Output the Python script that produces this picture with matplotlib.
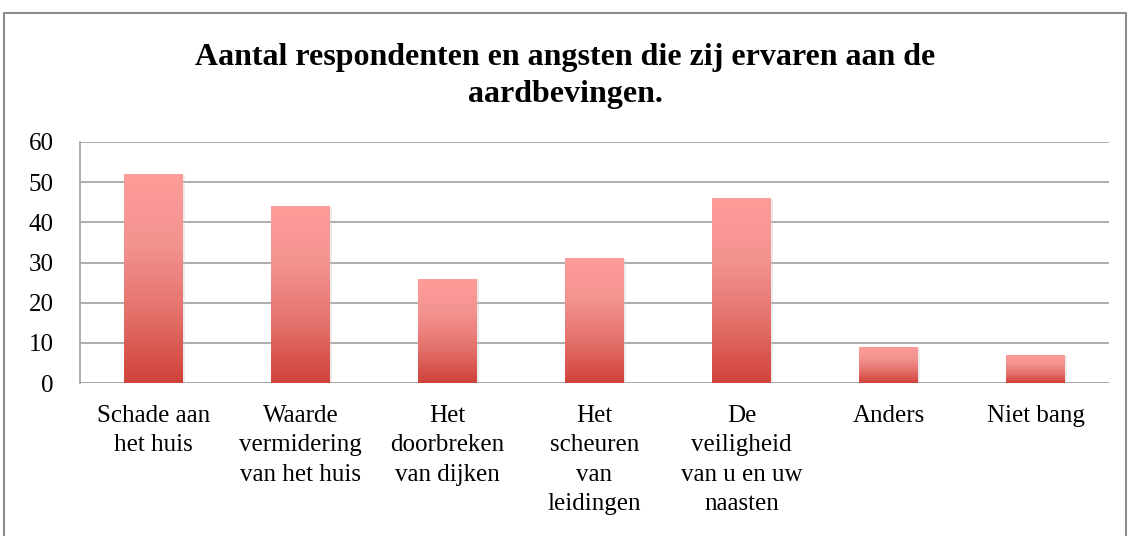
import numpy as np
import matplotlib.pyplot as plt
from matplotlib.colors import LinearSegmentedColormap
from matplotlib.patches import Rectangle

categories = ["Schade aan\nhet huis", "Waarde\nvermidering\nvan het huis", "Het\ndoorbreken\nvan dijken",
              "Het\nscheuren\nvan\nleidingen", "De\nveiligheid\nvan u en uw\nnaasten", "Anders", "Niet bang"]
values = [52, 44, 26, 31, 46, 9, 7]
yticks = [0, 10, 20, 30, 40, 50, 60]

plt.rcParams['font.family'] = ['Liberation Serif', 'DejaVu Serif']

fig = plt.figure(figsize=(11.31, 5.36), dpi=100)
ax = fig.add_axes([80 / 1131, 1 - 383 / 536, 1029 / 1131, 241 / 536])

# chart outer frame (bottom edge lies outside the picture)
fig.patches.append(Rectangle((4 / 1131, -0.1), 1122 / 1131, 1.1 - 13 / 536,
                             transform=fig.transFigure, fill=False,
                             edgecolor='#8c8c8c', linewidth=1.5))

cmap = LinearSegmentedColormap.from_list('bar', ['#d0423a', '#e4716b', '#f39390', '#fe9c9a'])
x = np.arange(len(values))
bars = ax.bar(x, values, width=0.4, color='none', zorder=3)
grad = np.linspace(0, 1, 256).reshape(-1, 1)
for b in bars:
    x0, w, h = b.get_x(), b.get_width(), b.get_height()
    # faint shadow
    ax.add_patch(Rectangle((x0 + 0.015, -0.4), w, h + 0.2, facecolor='#c8c8c8',
                           alpha=0.35, edgecolor='none', zorder=2))
    im = ax.imshow(grad, cmap=cmap, aspect='auto', origin='lower',
                   extent=[x0, x0 + w, 0, h], zorder=3)
    im.set_clip_path(b)

ax.set_xlim(-0.5, len(values) - 0.5)
ax.set_ylim(0, 60)
ax.set_yticks(yticks)
ax.yaxis.grid(True, color='#a6a6a6', linewidth=1.3, zorder=0)
ax.set_axisbelow(True)
for s in ['top', 'right', 'bottom']:
    ax.spines[s].set_visible(False)
ax.spines['left'].set_color('#a6a6a6')
ax.spines['left'].set_linewidth(1.3)
ax.axhline(0, color='#a6a6a6', linewidth=1.3, zorder=1)
ax.tick_params(axis='y', length=0, pad=19, labelsize=18)
ax.tick_params(axis='x', length=0, pad=16, labelsize=18)
ax.set_xticks(x)
ax.set_xticklabels(categories, linespacing=1.42)

fig.text(0.5, 1 - 76 / 536, "Aantal respondenten en angsten die zij ervaren aan de\naardbevingen.",
         ha='center', va='center', fontsize=23, fontweight='bold', linespacing=1.38)

fig.savefig('out.png', dpi=100)
